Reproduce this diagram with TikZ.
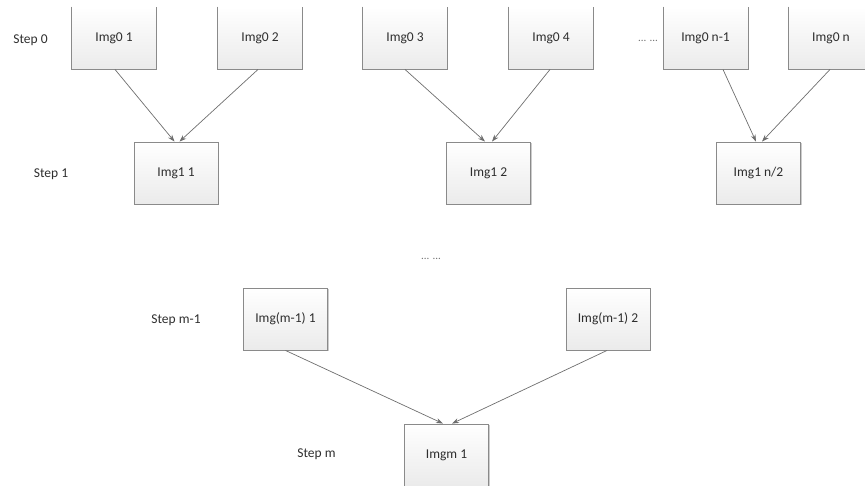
\documentclass[tikz,border=0pt]{standalone}
\usepackage{fontspec}
\setmainfont{Carlito}
\usetikzlibrary{arrows.meta,shadows}
\definecolor{boxline}{HTML}{8A8A8A}
\definecolor{linkline}{HTML}{6E6E6E}
\definecolor{txt}{HTML}{2E2E2E}
\tikzset{
  imgbox/.style={minimum width=84pt, minimum height=62pt, inner sep=0pt,
    shading=axis, top color=white, bottom color=black!8,
    drop shadow={shadow xshift=1pt, shadow yshift=-1pt, opacity=.2, fill=black},
    draw=boxline, line width=0.9pt, text=txt, font=\fontsize{13.5}{15}\selectfont},
  openbox/.style={imgbox, draw=none},
  steplabel/.style={text=txt, font=\fontsize{13.5}{15}\selectfont, inner sep=0pt},
  dotslabel/.style={text=black!55, font=\fontsize{11}{13}\selectfont, inner sep=0pt},
  link/.style={draw=linkline, line width=0.7pt, -{Stealth[length=7pt,width=5pt]}}
}
\begin{document}
\begin{tikzpicture}[x=1pt, y=-1pt]
\useasboundingbox (0,0) rectangle (865,485);
\clip (0,0) rectangle (865,485);

% row labels
\node[steplabel] (s0) at (30.5,40) {Step 0};
\node[steplabel] (s1) at (51,174) {Step 1};
\node[steplabel] (sm1) at (176,320) {Step m-1};
\node[steplabel] (sm) at (316.5,454) {Step m};
\node[dotslabel] (dtop) at (648,41) {... ...};
\node[dotslabel] (dmid) at (431,259) {... ...};

% step 0 (boxes run off the top edge: sides and bottom only)
\foreach \n/\x/\t in {a1/114/Img0 1, a2/260/Img0 2, a3/405/Img0 3, a4/551/Img0 4,
                      a5/705.5/Img0 n-1, a6/831/Img0 n} {
  \node[openbox] (\n) at (\x,38) {\t};
  \draw[boxline, line width=0.9pt] (\n.north west) -- (\n.south west)
       -- (\n.south east) -- (\n.north east);
}

% step 1
\node[imgbox] (b1) at (176,173) {Img1 1};
\node[imgbox] (b2) at (488.5,173) {Img1 2};
\node[imgbox] (b3) at (758.5,173) {Img1 n/2};

% step m-1 and m
\node[imgbox] (c1) at (285.5,319) {Img(m-1) 1};
\node[imgbox] (c2) at (608,319) {Img(m-1) 2};
\node[imgbox] (d1) at (446.5,455) {Imgm 1};

% merges
\draw[link] ([xshift=1pt]a1.south) -- ([xshift=-1.5pt]b1.north);
\draw[link] ([xshift=-2pt]a2.south) -- ([xshift=3.5pt]b1.north);
\draw[link] (a3.south) -- ([xshift=-3.5pt]b2.north);
\draw[link] ([xshift=-1pt]a4.south) -- ([xshift=3.5pt]b2.north);
\draw[link] ([xshift=17.5pt]a5.south) -- ([xshift=-2.5pt]b3.north);
\draw[link] ([xshift=-1pt]a6.south) -- ([xshift=3.5pt]b3.north);
\draw[link] (c1.south) -- ([xshift=-3.5pt]d1.north);
\draw[link] ([xshift=-1pt]c2.south) -- ([xshift=5.5pt]d1.north);
\end{tikzpicture}
\end{document}
